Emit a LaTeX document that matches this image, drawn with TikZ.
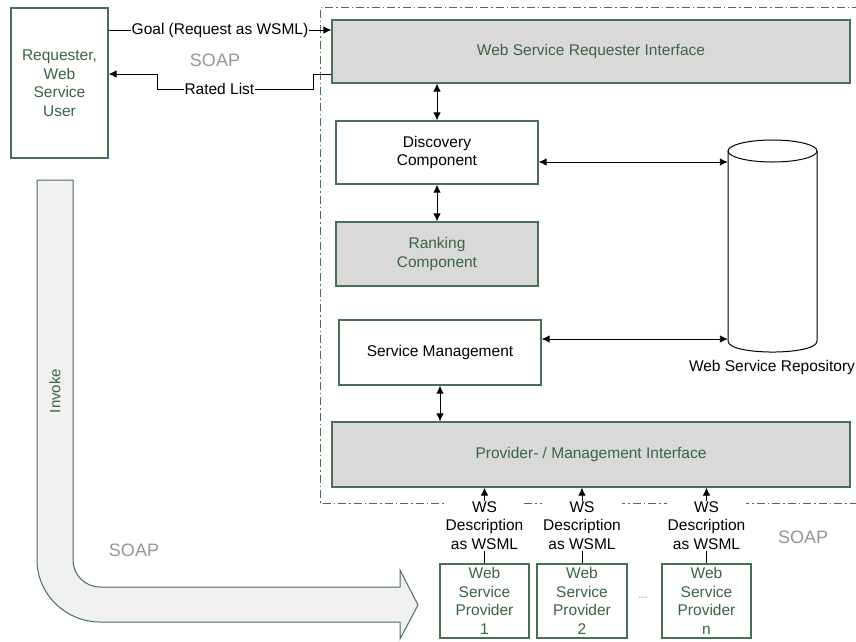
\documentclass[tikz,border=0pt]{standalone}
\usepackage{fontspec}
\setmainfont{Liberation Sans}
\usetikzlibrary{arrows.meta}
\definecolor{bordergreen}{RGB}{72,112,84}
\definecolor{textgreen}{RGB}{58,100,70}
\definecolor{boxgray}{RGB}{217,217,217}
\definecolor{arrowfill}{RGB}{241,241,241}
\definecolor{soapgray}{RGB}{150,150,150}
\begin{document}
\begin{tikzpicture}[x=1pt,y=-1pt,
  every node/.style={font=\fontsize{15.5}{18.5}\selectfont},
  box/.style={draw=bordergreen,line width=1.2pt,inner sep=0pt,align=center},
  whitebox/.style={box,fill=white,text=black},
  greenbox/.style={box,fill=white,text=textgreen},
  graybox/.style={box,fill=boxgray,text=textgreen},
  conn/.style={black,line width=0.9pt},
  dbl/.style={conn,{Latex[length=8pt,width=7.5pt]}-{Latex[length=8pt,width=7.5pt]}},
  sgl/.style={conn,-{Latex[length=8pt,width=7.5pt]}},
  lbl/.style={fill=white,inner sep=1pt,text=black,align=center},
  soap/.style={text=soapgray,font=\fontsize{18}{20}\selectfont},
  dashdot/.style={draw=bordergreen,line width=1pt,dash pattern=on 8pt off 3pt on 1.5pt off 3pt}
]
\useasboundingbox (0,0) rectangle (856,641);
\fill[white] (0,0) rectangle (856,641);

% container
\draw[dashdot] (860,7) -- (320,7) -- (320,503) -- (860,503);

% invoke arrow
\draw[draw=bordergreen,line width=1pt,fill=arrowfill]
  (37,180) -- (73,180) -- (73,560)
  .. controls (73,574.9) and (85.1,587) .. (100,587)
  -- (400,587) -- (400,570) -- (418,605) -- (400,639) -- (400,622)
  -- (100,622) .. controls (65.8,622) and (37,594.2) .. (37,560) -- cycle;
\node[rotate=90,text=textgreen,font=\fontsize{15}{18}\selectfont] (invoke) at (55,391) {Invoke};

% boxes
\node[greenbox,minimum width=97pt,minimum height=150pt] (req) at (59.5,83) {Requester,\\Web\\Service\\User};
\node[graybox,minimum width=518pt,minimum height=63pt] (rif) at (591,51.5) {Web Service Requester Interface};
\node[whitebox,minimum width=202pt,minimum height=63pt] (disc) at (437,152.5) {Discovery\\Component};
\node[graybox,minimum width=202pt,minimum height=64pt] (rank) at (437,254) {Ranking\\Component};
\node[whitebox,minimum width=202pt,minimum height=65pt] (smgmt) at (440,352.5) {Service Management};
\node[graybox,minimum width=518pt,minimum height=65pt] (pmi) at (591,454.5) {Provider- / Management Interface};
\node[greenbox,minimum width=89pt,minimum height=74pt] (p1) at (484.5,601) {Web\\Service\\Provider\\1};
\node[greenbox,minimum width=90pt,minimum height=74pt] (p2) at (582,601) {Web\\Service\\Provider\\2};
\node[greenbox,minimum width=89pt,minimum height=74pt] (pn) at (706.5,601) {Web\\Service\\Provider\\n};
\node[text=soapgray,font=\fontsize{11}{12}\selectfont] (dots) at (643,598) {...};

% repository cylinder
\node[minimum width=89pt,minimum height=212pt,inner sep=0pt] (repo) at (772.5,246) {};
\draw[line width=1pt,fill=white] (728,151) -- (728,341)
  .. controls (728,355.7) and (817,355.7) .. (817,341) -- (817,151);
\draw[line width=1pt] (772.5,151) ellipse [x radius=44.5, y radius=11];
\node[text=black] (repolbl) at (772,367) {Web Service Repository};

% SOAP labels
\node[soap] (soap1) at (215,60) {SOAP};
\node[soap] (soap2) at (134,550) {SOAP};
\node[soap] (soap3) at (803,537) {SOAP};

% connectors
\draw[sgl] (req.east |- 0,30) -- node[lbl]{Goal (Request as WSML)} (rif.west |- 0,30);
\draw[sgl] (rif.west |- 0,74) -- (313,74) -- (313,89) -- node[lbl,pos=0.6]{Rated List} (157,89) -- (157,74) -- (req.east |- 0,74);
\draw[dbl] (rif.south -| disc.north) -- (disc.north);
\draw[dbl] (disc.south) -- (rank.north);
\draw[dbl] (smgmt.south) -- (smgmt.south |- pmi.north);
\draw[dbl] (disc.east |- 0,162) -- (repo.west |- 0,162);
\draw[dbl] (smgmt.east |- 0,339) -- (repo.west |- 0,339);
\draw[sgl] (p1.north) -- node[lbl]{WS\\Description\\as WSML} (p1.north |- pmi.south);
\draw[sgl] (p2.north) -- node[lbl]{WS\\Description\\as WSML} (p2.north |- pmi.south);
\draw[sgl] (pn.north) -- node[lbl]{WS\\Description\\as WSML} (pn.north |- pmi.south);
\end{tikzpicture}
\end{document}
